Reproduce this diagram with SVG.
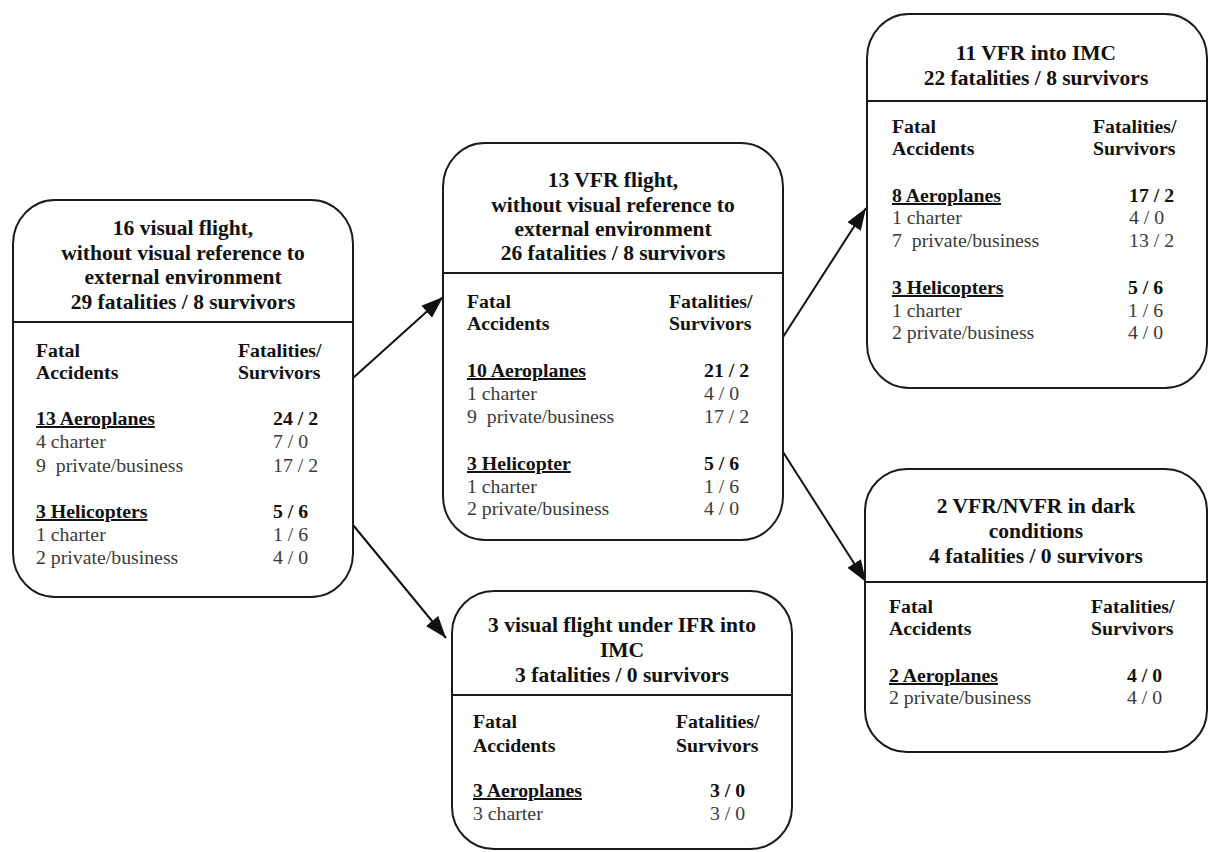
<svg xmlns="http://www.w3.org/2000/svg" width="1211" height="852" viewBox="0 0 1211 852">
<style>
.box{fill:#fff;stroke:#1a1a1a;stroke-width:2}
.div{stroke:#1a1a1a;stroke-width:2}
.t{font-family:"Liberation Serif","Times New Roman",serif;font-size:21.5px;font-weight:bold;fill:#111;text-anchor:middle}
.h{font-family:"Liberation Serif","Times New Roman",serif;font-size:19.8px;font-weight:bold;fill:#111}
.u{text-decoration:underline}
.n{font-family:"Liberation Serif","Times New Roman",serif;font-size:19.8px;fill:#3a3a3a}
.c{stroke:#111;stroke-width:2;fill:none}
</style>
<defs>
<marker id="ah" markerUnits="userSpaceOnUse" markerWidth="24" markerHeight="18" refX="22" refY="9" orient="auto">
<path d="M0,1 L22,9 L0,17 Z" fill="#111"/>
</marker>
</defs>
<g id="connectors">
<line class="c" x1="353" y1="378" x2="443" y2="297" marker-end="url(#ah)"/>
<line class="c" x1="353" y1="525" x2="446" y2="638" marker-end="url(#ah)"/>
<line class="c" x1="783" y1="337" x2="866" y2="208" marker-end="url(#ah)"/>
<line class="c" x1="783" y1="452" x2="866" y2="582" marker-end="url(#ah)"/>
</g>
<g id="node1">
<rect class="box" x="13" y="200" width="340" height="397" rx="42" ry="44"/>
<line class="div" x1="13" y1="322" x2="353" y2="322"/>
<text class="t" x="183" y="235">16 visual flight,</text>
<text class="t" x="183" y="260">without visual reference to</text>
<text class="t" x="183" y="284">external environment</text>
<text class="t" x="183" y="309">29 fatalities / 8 survivors</text>
<text class="h" x="36" y="357">Fatal</text>
<text class="h" x="36" y="379">Accidents</text>
<text class="h" x="238" y="357">Fatalities/</text>
<text class="h" x="238" y="379">Survivors</text>
<text class="h u" x="36" y="425">13 Aeroplanes</text>
<text class="h" x="273" y="425">24 / 2</text>
<text class="n" x="36" y="448">4 charter</text>
<text class="n" x="273" y="448">7 / 0</text>
<text class="n" x="36" y="472" xml:space="preserve">9  private/business</text>
<text class="n" x="273" y="472">17 / 2</text>
<text class="h u" x="36" y="518">3 Helicopters</text>
<text class="h" x="273" y="518">5 / 6</text>
<text class="n" x="36" y="541">1 charter</text>
<text class="n" x="273" y="541">1 / 6</text>
<text class="n" x="36" y="564">2 private/business</text>
<text class="n" x="273" y="564">4 / 0</text>
</g>
<g id="node2">
<rect class="box" x="443" y="143" width="340" height="397" rx="42" ry="44"/>
<line class="div" x1="443" y1="273" x2="783" y2="273"/>
<text class="t" x="613" y="187">13 VFR flight,</text>
<text class="t" x="613" y="212">without visual reference to</text>
<text class="t" x="613" y="236">external environment</text>
<text class="t" x="613" y="260">26 fatalities / 8 survivors</text>
<text class="h" x="467" y="308">Fatal</text>
<text class="h" x="467" y="330">Accidents</text>
<text class="h" x="669" y="308">Fatalities/</text>
<text class="h" x="669" y="330">Survivors</text>
<text class="h u" x="467" y="377">10 Aeroplanes</text>
<text class="h" x="704" y="377">21 / 2</text>
<text class="n" x="467" y="400">1 charter</text>
<text class="n" x="704" y="400">4 / 0</text>
<text class="n" x="467" y="423" xml:space="preserve">9  private/business</text>
<text class="n" x="704" y="423">17 / 2</text>
<text class="h u" x="467" y="470">3 Helicopter</text>
<text class="h" x="704" y="470">5 / 6</text>
<text class="n" x="467" y="493">1 charter</text>
<text class="n" x="704" y="493">1 / 6</text>
<text class="n" x="467" y="515">2 private/business</text>
<text class="n" x="704" y="515">4 / 0</text>
</g>
<g id="node3">
<rect class="box" x="867" y="14" width="340" height="374" rx="42" ry="44"/>
<line class="div" x1="867" y1="101" x2="1207" y2="101"/>
<text class="t" x="1036" y="60">11 VFR into IMC</text>
<text class="t" x="1036" y="85">22 fatalities / 8 survivors</text>
<text class="h" x="892" y="133">Fatal</text>
<text class="h" x="892" y="155">Accidents</text>
<text class="h" x="1093" y="133">Fatalities/</text>
<text class="h" x="1093" y="155">Survivors</text>
<text class="h u" x="892" y="202">8 Aeroplanes</text>
<text class="h" x="1129" y="202">17 / 2</text>
<text class="n" x="892" y="224">1 charter</text>
<text class="n" x="1129" y="224">4 / 0</text>
<text class="n" x="892" y="247" xml:space="preserve">7  private/business</text>
<text class="n" x="1129" y="247">13 / 2</text>
<text class="h u" x="892" y="294">3 Helicopters</text>
<text class="h" x="1128" y="294">5 / 6</text>
<text class="n" x="892" y="317">1 charter</text>
<text class="n" x="1128" y="317">1 / 6</text>
<text class="n" x="892" y="339">2 private/business</text>
<text class="n" x="1128" y="339">4 / 0</text>
</g>
<g id="node4">
<rect class="box" x="865" y="469" width="342" height="283" rx="42" ry="42"/>
<line class="div" x1="865" y1="582" x2="1207" y2="582"/>
<text class="t" x="1036" y="513">2 VFR/NVFR in dark</text>
<text class="t" x="1036" y="538">conditions</text>
<text class="t" x="1036" y="563">4 fatalities / 0 survivors</text>
<text class="h" x="889" y="613">Fatal</text>
<text class="h" x="889" y="635">Accidents</text>
<text class="h" x="1091" y="613">Fatalities/</text>
<text class="h" x="1091" y="635">Survivors</text>
<text class="h u" x="889" y="682">2 Aeroplanes</text>
<text class="h" x="1127" y="682">4 / 0</text>
<text class="n" x="889" y="704">2 private/business</text>
<text class="n" x="1127" y="704">4 / 0</text>
</g>
<g id="node5">
<rect class="box" x="452" y="591" width="340" height="258" rx="42" ry="42"/>
<line class="div" x1="452" y1="695" x2="792" y2="695"/>
<text class="t" x="622" y="632">3 visual flight under IFR into</text>
<text class="t" x="622" y="657">IMC</text>
<text class="t" x="622" y="682">3 fatalities / 0 survivors</text>
<text class="h" x="473" y="728">Fatal</text>
<text class="h" x="473" y="752">Accidents</text>
<text class="h" x="676" y="728">Fatalities/</text>
<text class="h" x="676" y="752">Survivors</text>
<text class="h u" x="473" y="797">3 Aeroplanes</text>
<text class="h" x="710" y="797">3 / 0</text>
<text class="n" x="473" y="820">3 charter</text>
<text class="n" x="710" y="820">3 / 0</text>
</g>
</svg>
